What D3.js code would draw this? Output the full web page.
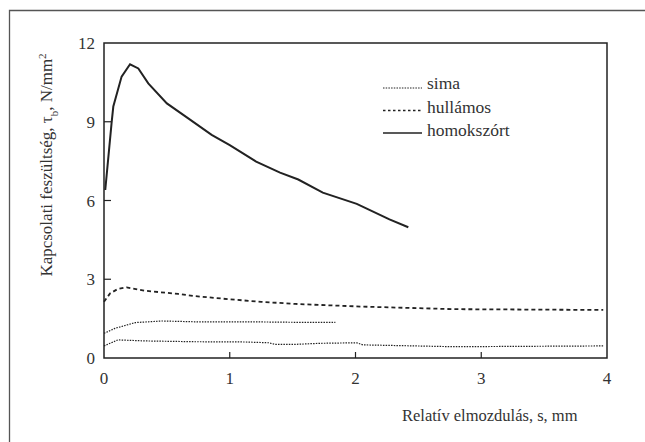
<!DOCTYPE html>
<meta charset="utf-8">
<head>
    <script type="text/javascript" src="https://cdn.jsdelivr.net/npm/d3@7"></script>
    <style>
        body { margin: 0; background: #fff; }
        text { font-family: "Liberation Serif", "DejaVu Serif", serif; fill: #333; }
    </style>
</head>
<body>
<div id="chart"></div>
<script>
    // data (s in mm, tau in N/mm2)
    var homokX = [0.01, 0.06, 0.074, 0.14, 0.207, 0.273, 0.352, 0.5, 0.67, 0.856, 1.0, 1.21, 1.4, 1.545, 1.74, 2.01, 2.27, 2.42];
    var homokY = [6.4, 8.94, 9.58, 10.72, 11.19, 11.03, 10.46, 9.70, 9.13, 8.50, 8.11, 7.48, 7.06, 6.80, 6.30, 5.87, 5.28, 4.98];

    var hullamX = [0, 0.048, 0.11, 0.18, 0.33, 0.59, 0.72, 0.99, 1.25, 1.52, 1.72, 2.04, 2.78, 3.97];
    var hullamY = [2.14, 2.46, 2.63, 2.69, 2.56, 2.44, 2.36, 2.24, 2.14, 2.06, 2.02, 1.96, 1.86, 1.83];

    var simaAX = [0, 0.087, 0.25, 0.46, 0.72, 1.12, 1.52, 1.84];
    var simaAY = [0.94, 1.13, 1.35, 1.41, 1.38, 1.38, 1.36, 1.36];

    var simaBX = [0, 0.048, 0.11, 0.33, 0.72, 1.12, 1.31, 1.36, 1.52, 1.72, 2.01, 2.06, 2.78, 3.97];
    var simaBY = [0.46, 0.56, 0.69, 0.65, 0.62, 0.61, 0.58, 0.52, 0.52, 0.56, 0.58, 0.50, 0.43, 0.46];

    var xTicks = [0, 1, 2, 3, 4];
    var yTicks = [0, 3, 6, 9, 12];
    var legendNames = ["sima", "hullámos", "homokszórt"];

    var w = 645, h = 442;
    var pLeft = 104, pRight = 607, pTop = 43, pBottom = 358;

    var svg = d3.select("#chart").append("svg")
        .attr("width", w).attr("height", h);

    var x = d3.scaleLinear().domain([0, 4]).range([pLeft, pRight]);
    var y = d3.scaleLinear().domain([0, 12]).range([pBottom, pTop]);

    // outer frame (top and left only)
    svg.append("path")
        .attr("d", "M9.5," + h + "V10.5H" + w)
        .attr("fill", "none").attr("stroke", "#555").attr("stroke-width", 1.3);

    // plot box
    svg.append("rect")
        .attr("x", pLeft).attr("y", pTop)
        .attr("width", pRight - pLeft).attr("height", pBottom - pTop)
        .attr("fill", "none").attr("stroke", "#222").attr("stroke-width", 1.5);

    // inner ticks
    svg.append("g").selectAll("line").data(yTicks.slice(1, -1)).enter().append("line")
        .attr("x1", pLeft).attr("x2", pLeft + 7)
        .attr("y1", d => y(d)).attr("y2", d => y(d))
        .attr("stroke", "#222").attr("stroke-width", 1.2);
    svg.append("g").selectAll("line").data(xTicks.slice(1, -1)).enter().append("line")
        .attr("x1", d => x(d)).attr("x2", d => x(d))
        .attr("y1", pBottom).attr("y2", pBottom - 6)
        .attr("stroke", "#222").attr("stroke-width", 1.2);

    // tick labels
    svg.append("g").selectAll("text").data(yTicks).enter().append("text")
        .attr("x", pLeft - 9).attr("y", d => y(d) + 6)
        .attr("text-anchor", "end").style("font-size", "17px")
        .text(d => d);
    svg.append("g").selectAll("text").data(xTicks).enter().append("text")
        .attr("x", d => x(d)).attr("y", pBottom + 26)
        .attr("text-anchor", "middle").style("font-size", "17px")
        .text(d => d);

    // axis titles
    svg.append("text")
        .attr("x", 402).attr("y", 421)
        .style("font-size", "16.5px")
        .text("Relatív elmozdulás, s, mm");

    var yt = svg.append("text")
        .attr("transform", "translate(52,165) rotate(-90)")
        .attr("text-anchor", "middle")
        .style("font-size", "17px");
    yt.append("tspan").text("Kapcsolati feszültség, τ");
    yt.append("tspan").attr("baseline-shift", "sub").style("font-size", "11px").text("b");
    yt.append("tspan").text(", N/mm");
    yt.append("tspan").attr("baseline-shift", "super").style("font-size", "11px").text("2");

    // series
    var line = d3.line().x(d => x(d[0])).y(d => y(d[1]));
    function draw(xs, ys, dash, width) {
        svg.append("path")
            .datum(d3.zip(xs, ys))
            .attr("d", line)
            .attr("fill", "none")
            .attr("stroke", "#222")
            .attr("stroke-width", width)
            .attr("stroke-dasharray", dash);
    }
    draw(simaBX, simaBY, "1.5,1.2", 1.2);
    draw(simaAX, simaAY, "1.5,1.2", 1.2);
    draw(hullamX, hullamY, "4,3", 1.8);
    draw(homokX, homokY, null, 2);

    // legend
    var legendDash = ["1.5,1.2", "2.5,2.5", null];
    var legendWidth = [1, 1.6, 1.5];
    var lg = svg.append("g").attr("transform", "translate(383,88)");
    legendNames.forEach((name, i) => {
        lg.append("line")
            .attr("x1", 0).attr("x2", 39)
            .attr("y1", i * 22.5).attr("y2", i * 22.5)
            .attr("stroke", "#222").attr("stroke-width", legendWidth[i])
            .attr("stroke-dasharray", legendDash[i]);
        lg.append("text")
            .attr("x", 44).attr("y", i * 23.5 + 1)
            .style("font-size", "17.5px")
            .text(name);
    });
</script>
</body>
</html>
